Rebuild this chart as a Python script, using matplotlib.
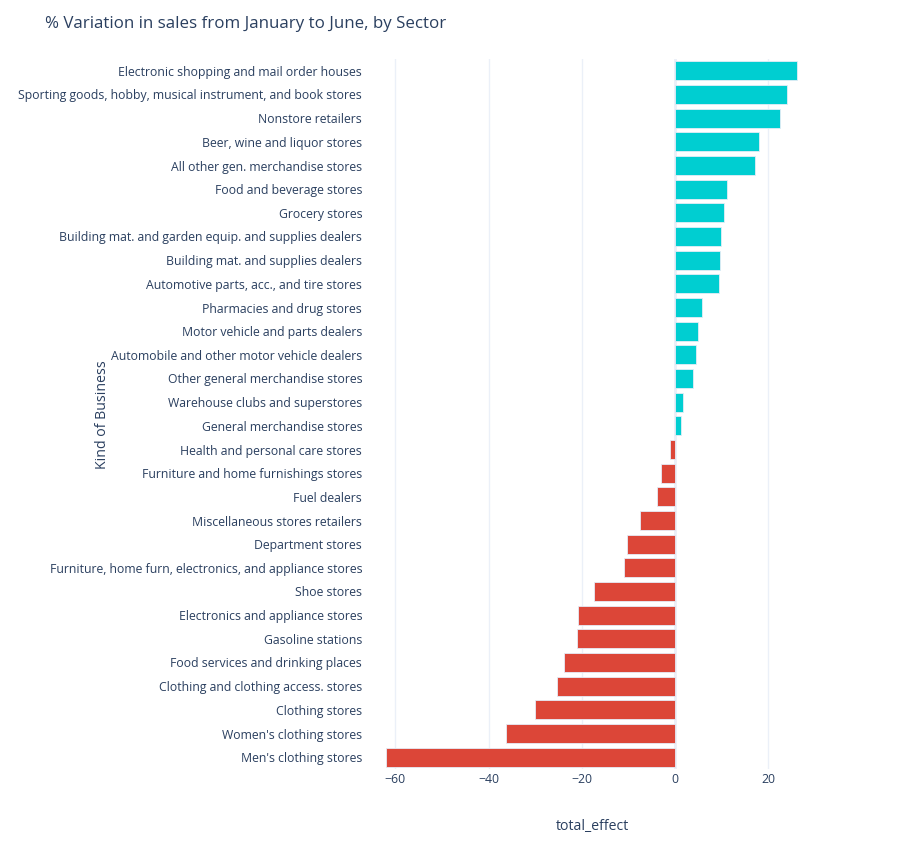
import matplotlib.pyplot as plt

# Datos: variacion % de ventas de enero a junio por sector
sectores = [
    "Electronic shopping and mail order houses",
    "Sporting goods, hobby, musical instrument, and book stores",
    "Nonstore retailers",
    "Beer, wine and liquor stores",
    "All other gen. merchandise stores",
    "Food and beverage stores",
    "Grocery stores",
    "Building mat. and garden equip. and supplies dealers",
    "Building mat. and supplies dealers",
    "Automotive parts, acc., and tire stores",
    "Pharmacies and drug stores",
    "Motor vehicle and parts dealers",
    "Automobile and other motor vehicle dealers",
    "Other general merchandise stores",
    "Warehouse clubs and superstores",
    "General merchandise stores",
    "Health and personal care stores",
    "Furniture and home furnishings stores",
    "Fuel dealers",
    "Miscellaneous stores retailers",
    "Department stores",
    "Furniture, home furn, electronics, and appliance stores",
    "Shoe stores",
    "Electronics and appliance stores",
    "Gasoline stations",
    "Food services and drinking places",
    "Clothing and clothing access. stores",
    "Clothing stores",
    "Women's clothing stores",
    "Men's clothing stores",
]
total_effect = [
    26.1, 24.0, 22.5, 18.0, 17.2, 11.1, 10.5, 9.9, 9.7, 9.4,
    5.8, 4.9, 4.4, 3.9, 1.8, 1.3, -1.0, -3.1, -3.9, -7.6,
    -10.2, -11.0, -17.4, -20.9, -21.1, -23.8, -25.3, -30.1, -36.3, -62.0,
]

texto = "#2a3f5f"
colores = ["#00CED1" if v >= 0 else "#DC4638" for v in total_effect]

plt.rcParams['font.family'] = ['Open Sans', 'DejaVu Sans']

fig = plt.figure(figsize=(9, 8.5), dpi=100)
ax = fig.add_axes([365 / 900, 81 / 850, 455 / 900, 710 / 850])

pos = list(range(len(sectores)))
ax.barh(pos, total_effect, height=0.8, color=colores,
        edgecolor="#E5ECF6", linewidth=0.6, zorder=3)

ax.set_yticks(pos)
ax.set_yticklabels(sectores, fontsize=8.8, color=texto)
ax.set_ylim(len(sectores) - 0.5, -0.5)
ax.set_xlim(-66.5, 31.1)
ax.set_xticks([-60, -40, -20, 0, 20])
ax.tick_params(axis='x', labelsize=8.8, colors=texto, length=0, pad=3)
ax.tick_params(axis='y', length=0, pad=2)
ax.grid(axis='x', color="#EBF0F8", linewidth=1, zorder=0)
ax.axvline(0, color="#EBF0F8", linewidth=2, zorder=1)
for s in ax.spines.values():
    s.set_visible(False)

ax.set_xlabel("total_effect", fontsize=10.2, color=texto, labelpad=24)
fig.text(103 / 900, 1 - 415 / 850, "Kind of Business", rotation=90,
         ha='center', va='center', fontsize=10.2, color=texto)
fig.text(45 / 900, 1 - 24 / 850, "% Variation in sales from January to June, by Sector",
         ha='left', va='center', fontsize=12.2, color=texto)

fig.savefig("out.png", dpi=100)
